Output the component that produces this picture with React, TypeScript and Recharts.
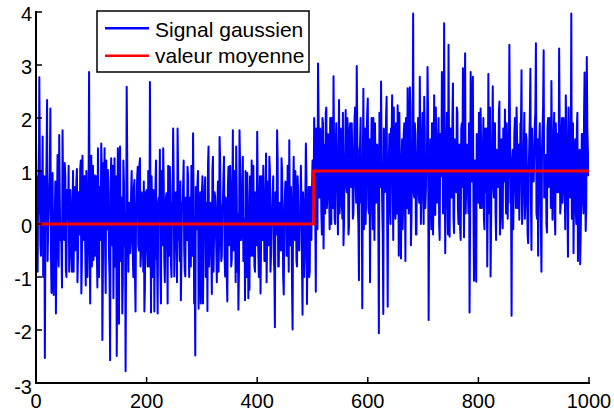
import React from 'react';
import { LineChart, Line, XAxis, YAxis, Legend } from 'recharts';

// Gaussian signal: even-numbered samples (0, 2, 4, ... 998)
const signalEven = [
  1.6,-0.4,0.9,2.77,-0.4,1.0,1.65,0.3,-2.53,0.5,2.34,-0.1,0.6,2.18,-1.3,0.96,-1.34,0.2,-1.69,0.4,-0.5,1.68,-0.3,-0.44,1.77,
  0.3,1.15,-0.87,0.64,0.1,-0.9,0.64,-0.2,0.3,-0.9,0.7,-0.1,1.04,-0.6,0.2,1.04,-1.31,1.29,-0.3,0.9,-1.16,0.5,-0.2,2.87,-1.5,
  1.29,-0.3,-0.68,0.92,0.2,-0.5,1.43,-1.0,0.4,1.52,-2.19,1.15,1.43,-1.3,0.3,1.02,-0.6,-2.57,1.24,0.1,-1.4,1.24,-0.8,-2.49,1.43,
  -1.88,1.46,0.2,-1.69,1.2,-0.4,-2.78,2.59,-0.2,0.1,-0.55,0.58,-0.3,-1.0,0.83,-1.65,0.4,1.08,-0.5,1.24,-0.55,0.3,-0.9,-1.65,0.6,
  0.64,-0.8,0.3,2.68,-1.67,0.2,0.64,-1.65,0.7,-0.6,-1.69,0.5,1.4,-1.5,0.2,1.43,-0.7,0.1,0.58,-1.5,0.3,1.08,-0.74,0.4,1.8,
  -0.99,0.5,0.2,1.8,-0.3,-0.7,-1.44,0.4,0.7,-0.5,-0.99,0.3,1.08,-0.2,0.5,-0.8,0.1,1.71,-1.5,-2.48,0.3,0.77,-1.6,0.2,-1.5,
  0.58,-1.5,0.1,0.88,-0.5,-1.64,1.46,-0.3,0.4,-1.32,1.27,-0.2,0.5,-0.42,0.3,-0.9,1.64,0.1,-0.6,0.4,1.27,-0.99,0.2,-1.46,1.08,
  -0.4,0.6,-0.66,1.77,-0.2,0.4,1.46,-0.9,-1.62,1.77,-0.3,0.2,1.27,-0.5,-1.44,0.5,0.96,-1.4,-1.24,0.3,1.2,-0.6,0.1,-0.9,0.4,
  1.74,-0.5,0.2,-1.31,0.9,-0.3,0.5,-0.7,1.33,-0.2,0.3,1.27,-0.9,0.1,0.64,-0.6,-1.95,0.4,1.77,-0.8,0.2,-0.4,1.24,0.1,-1.33,
  0.5,0.77,-0.6,0.3,1.58,-0.4,0.2,-1.99,1.27,-0.3,0.4,-0.8,0.64,-0.5,0.1,0.39,-1.71,0.2,-0.6,1.52,-1.51,0.3,-1.0,0.7,-0.3,
  1.2,0.3,1.6,-1.28,1.0,3.03,0.5,1.8,0.2,2.0,-0.46,1.5,2.1,0.3,1.7,0.6,2.0,0.0,1.2,2.79,0.1,1.4,0.8,-0.2,2.34,
  0.5,1.6,0.1,-0.4,1.3,2.15,0.6,1.8,-0.05,1.9,0.7,1.2,0.2,1.95,0.8,2.98,0.3,-1.06,1.5,0.4,-1.59,2.55,0.9,0.0,1.7,
  2.37,0.2,-1.1,1.4,0.5,2.0,-0.3,1.1,0.9,1.3,-2.06,1.0,2.69,0.4,-1.7,1.6,0.7,2.4,-1.56,1.2,0.3,1.8,2.43,-0.3,1.0,
  0.1,1.5,2.24,-0.6,1.2,-0.65,1.6,0.4,1.9,-0.7,1.1,2.56,0.2,2.58,-0.4,1.3,3.97,0.5,1.7,-0.2,1.4,0.6,2.78,0.0,1.5,
  0.8,2.4,0.3,1.2,2.96,-1.81,1.0,0.4,1.9,-0.2,2.43,0.17,1.4,0.6,2.0,-0.3,1.5,2.87,0.2,3.79,-0.55,1.3,0.8,3.38,-0.24,
  1.8,0.5,2.65,-0.17,1.2,0.6,2.1,0.0,1.5,-0.3,1.9,2.94,-0.25,3.22,0.7,1.4,0.2,-1.67,2.87,0.8,2.78,-1.07,1.2,-1.09,1.6,
  0.4,1.5,2.18,0.3,1.1,0.08,1.8,0.6,-0.8,2.83,0.2,-0.99,1.4,2.6,0.5,1.9,-0.3,1.2,0.7,2.31,0.1,1.6,-0.08,1.3,2.16,
  0.2,1.5,0.9,3.38,0.4,-1.73,1.4,0.8,2.0,0.3,1.6,0.5,0.08,1.9,2.9,0.4,1.3,0.1,1.7,0.6,-0.36,1.5,2.93,-0.49,1.2,
  0.8,1.9,3.41,0.1,-0.6,1.5,0.7,-0.9,1.8,3.28,0.5,1.3,-0.16,2.0,0.9,1.6,2.7,0.08,1.4,0.2,1.9,0.6,1.2,3.31,0.2,
  1.5,0.4,2.0,0.8,2.43,1.0,-0.62,1.6,0.5,3.97,0.9,-0.55,1.3,0.3,1.8,-0.7,1.1,-0.76,0.6,1.7,0.2,2.86,-0.13,3.15,1.4,
];

// Odd-numbered samples (1, 3, 5, ... 999), estimated from the dense body of the trace
const signalOdd = [
  0.8,-0.9,0.2,1.1,-0.6,0.4,-1.0,0.9,-0.2,1.2,-0.7,0.3,1.0,-0.5,0.6,-1.1,0.1,0.8,-0.4,1.3,-0.8,0.5,0.0,-1.2,0.7,
  -0.3,0.9,-1.0,0.4,1.1,-0.6,0.2,-0.9,1.0,0.3,-0.5,0.8,-1.1,0.6,-0.2,1.2,-0.7,0.1,0.9,-0.4,1.0,-1.0,0.5,-0.3,0.7,
  -0.8,1.1,0.2,-0.6,0.9,-1.2,0.4,0.7,-0.3,1.0,-0.9,0.3,-0.5,1.2,-0.1,0.6,-1.0,0.8,-0.4,1.1,0.0,-0.8,0.9,-0.6,0.3,
  1.0,-0.7,0.5,-1.1,0.8,0.2,-0.5,1.2,-0.9,0.4,-0.2,1.0,-0.6,0.7,-1.0,0.3,0.9,-0.4,1.1,-0.8,0.6,-0.1,0.8,-1.2,0.2,
  -0.5,1.0,-0.8,0.3,0.9,-1.0,0.6,-0.3,1.2,-0.7,0.4,0.1,-0.9,1.0,-0.4,0.8,-1.1,0.5,-0.2,1.1,-0.6,0.7,-1.0,0.2,0.9,
  -0.4,0.6,-1.1,1.0,-0.2,0.8,-0.7,0.3,1.2,-0.9,0.5,-0.3,0.9,-1.0,0.2,1.1,-0.6,0.4,-0.8,0.7,-0.1,1.0,-0.5,0.6,-1.2,
  0.9,-0.3,0.7,-1.0,0.4,1.1,-0.8,0.2,-0.5,1.0,-0.9,0.6,0.0,-1.1,0.8,-0.4,1.2,-0.7,0.3,0.9,-0.6,0.5,-1.0,0.7,-0.2,
  1.1,-0.8,0.4,-0.5,1.0,-1.1,0.6,0.2,-0.9,1.2,-0.3,0.8,-0.7,0.1,1.0,-1.0,0.5,-0.2,0.9,-0.6,0.3,1.1,-0.8,0.6,-0.4,
  0.7,-1.0,0.9,-0.3,0.5,1.1,-0.7,0.2,-1.1,0.8,-0.4,1.0,-0.6,0.3,0.9,-0.9,0.6,-0.2,1.2,-0.8,0.4,-0.5,1.0,-1.0,0.1,
  0.8,-0.6,1.1,-0.9,0.3,0.7,-1.2,0.5,-0.1,1.0,-0.7,0.9,-0.4,0.2,1.1,-0.8,0.6,-1.0,0.4,0.9,-0.5,0.7,-0.9,0.3,0.6,
  0.4,2.0,0.1,1.8,-0.1,2.1,0.5,1.4,-0.2,1.9,0.8,0.2,2.2,0.6,1.6,-0.1,1.1,2.0,0.3,1.5,0.0,1.9,0.7,1.3,0.2,
  1.8,0.4,2.1,0.0,1.3,0.7,2.0,-0.2,1.5,0.9,1.9,0.1,1.2,2.2,0.4,1.7,0.0,1.4,2.0,0.6,1.1,-0.1,1.8,0.5,2.1,
  0.3,1.6,0.8,2.0,-0.1,1.2,1.9,0.4,1.5,0.1,2.1,0.7,1.3,-0.2,1.8,0.6,2.0,0.2,1.1,1.7,0.0,1.5,0.8,2.2,0.4,
  1.9,0.2,1.4,2.1,0.5,1.0,-0.1,1.7,0.8,2.0,0.3,1.3,0.9,2.2,0.1,1.6,0.6,1.9,-0.2,1.2,2.0,0.4,1.5,0.7,2.1,
  0.0,1.8,0.6,1.3,2.1,0.2,1.6,-0.1,1.9,0.8,1.1,2.2,0.4,1.5,0.0,1.7,0.9,2.0,0.3,1.4,0.6,2.1,-0.2,1.2,1.8,
  0.5,2.0,0.1,1.6,0.9,2.2,0.3,1.3,-0.1,1.8,0.7,1.0,2.1,0.2,1.5,0.8,1.9,0.0,1.4,2.0,0.5,1.2,-0.2,1.7,0.9,
  2.1,0.3,1.5,0.6,2.0,-0.1,1.3,1.8,0.4,1.1,2.2,0.0,1.6,0.7,1.9,0.2,1.4,0.9,2.1,-0.2,1.2,0.5,1.8,0.8,1.0,
  1.9,0.1,1.4,2.0,0.6,1.2,-0.1,1.7,0.9,2.2,0.3,1.5,0.7,1.9,0.0,1.3,2.1,0.5,1.6,-0.2,1.0,2.0,0.4,1.8,0.8,
  1.3,2.1,0.2,1.6,0.8,1.9,-0.1,1.4,2.2,0.5,1.1,0.0,1.8,0.7,2.0,0.3,1.5,0.9,2.1,-0.2,1.2,1.7,0.6,1.9,0.4,
  2.0,0.7,1.5,-0.1,1.8,0.3,2.2,0.9,1.2,0.1,1.9,0.6,1.6,0.0,2.1,0.8,1.4,-0.2,1.7,0.5,2.0,1.1,0.3,1.8,0.9,
];

// Mean value (step)
const meanX = [0, 502, 502, 1000];
const meanY = [0, 0, 1, 1];

const xTicks = [0, 200, 400, 600, 800, 1000];
const yTicks = [-3, -2, -1, 0, 1, 2, 3, 4];
const seriesNames = ['Signal gaussien', 'valeur moyenne'];
const seriesColors = ['#0000ff', '#ff0000'];

const signalData: { x: number; y: number }[] = [];
signalEven.forEach((v, i) => {
  signalData.push({ x: 2 * i, y: v });
  signalData.push({ x: 2 * i + 1, y: signalOdd[i] });
});
const meanData = meanX.map((x, i) => ({ x, m: meanY[i] }));

const FONT = '"Liberation Sans", Arial, Helvetica, sans-serif';
const TICK_LEN = 6;

const BottomTick = (p: any) => (
  <g>
    <line x1={p.x} y1={p.y} x2={p.x} y2={p.y - TICK_LEN} stroke="#000" strokeWidth={1.5} />
    <text x={p.x} y={p.y + 25} textAnchor="middle" fontSize={20} fontFamily={FONT} fill="#000">
      {p.payload.value}
    </text>
  </g>
);
const TopTick = (p: any) => (
  <line x1={p.x} y1={p.y} x2={p.x} y2={p.y + TICK_LEN} stroke="#000" strokeWidth={1.5} />
);
const LeftTick = (p: any) => (
  <g>
    <line x1={p.x} y1={p.y} x2={p.x + TICK_LEN} y2={p.y} stroke="#000" strokeWidth={1.5} />
    <text x={p.x - 4} y={p.y + (p.payload.value === -3 ? 11 : 9)} textAnchor="end" fontSize={20} fontFamily={FONT} fill="#000">
      {p.payload.value}
    </text>
  </g>
);
const RightTick = (p: any) => (
  <line x1={p.x} y1={p.y} x2={p.x - TICK_LEN} y2={p.y} stroke="#000" strokeWidth={1.5} />
);

const LegendBox = () => (
  <svg width={214} height={63} style={{ display: 'block' }}>
    <rect x={1} y={1} width={212} height={61} fill="#fff" stroke="#000" strokeWidth={1.5} />
    {seriesNames.map((name, i) => (
      <g key={name}>
        <line x1={9} x2={53} y1={18.3 + i * 27.4} y2={18.3 + i * 27.4} stroke={seriesColors[i]} strokeWidth={2.5} />
        <text x={59} y={26.7 + i * 26.6} fontSize={21} fontFamily={FONT} fill="#000">
          {name}
        </text>
      </g>
    ))}
  </svg>
);

const axisLine = { stroke: '#000', strokeWidth: 2, strokeLinecap: 'square' as const };

export default function App() {
  return (
    <div style={{ position: 'absolute', left: 0, top: 0, width: 614, height: 414, background: '#fff' }}>
      <LineChart width={614} height={414} data={signalData} margin={{ top: 12, right: 25, bottom: 0, left: 0 }}>
        <XAxis xAxisId="b" dataKey="x" type="number" domain={[0, 1000]} ticks={xTicks} interval={0}
          tickSize={0} tickMargin={0} height={31} axisLine={axisLine} tickLine={false} tick={<BottomTick />} allowDataOverflow />
        <XAxis xAxisId="t" orientation="top" dataKey="x" type="number" domain={[0, 1000]} ticks={xTicks} interval={0}
          tickSize={0} tickMargin={0} height={0} axisLine={axisLine} tickLine={false} tick={<TopTick />} allowDataOverflow />
        <YAxis yAxisId="l" type="number" domain={[-3, 4]} ticks={yTicks} interval={0}
          tickSize={0} tickMargin={0} width={36} axisLine={axisLine} tickLine={false} tick={<LeftTick />} allowDataOverflow />
        <YAxis yAxisId="r" orientation="right" type="number" domain={[-3, 4]} ticks={yTicks} interval={0}
          tickSize={0} tickMargin={0} width={0} axisLine={axisLine} tickLine={false} tick={<RightTick />} allowDataOverflow />
        <Line xAxisId="b" yAxisId="l" type="linear" dataKey="y" name={seriesNames[0]} stroke={seriesColors[0]}
          strokeWidth={2} strokeLinejoin="round" dot={false} activeDot={false} isAnimationActive={false} />
        <Line xAxisId="t" yAxisId="r" type="linear" data={meanData} dataKey="m" name={seriesNames[1]} stroke={seriesColors[1]}
          strokeWidth={2.8} dot={false} activeDot={false} isAnimationActive={false} />
        <Legend layout="horizontal" verticalAlign="middle" align="center" content={<LegendBox />}
          wrapperStyle={{ left: 96, top: 10, width: 214, height: 63 }} />
      </LineChart>
    </div>
  );
}
